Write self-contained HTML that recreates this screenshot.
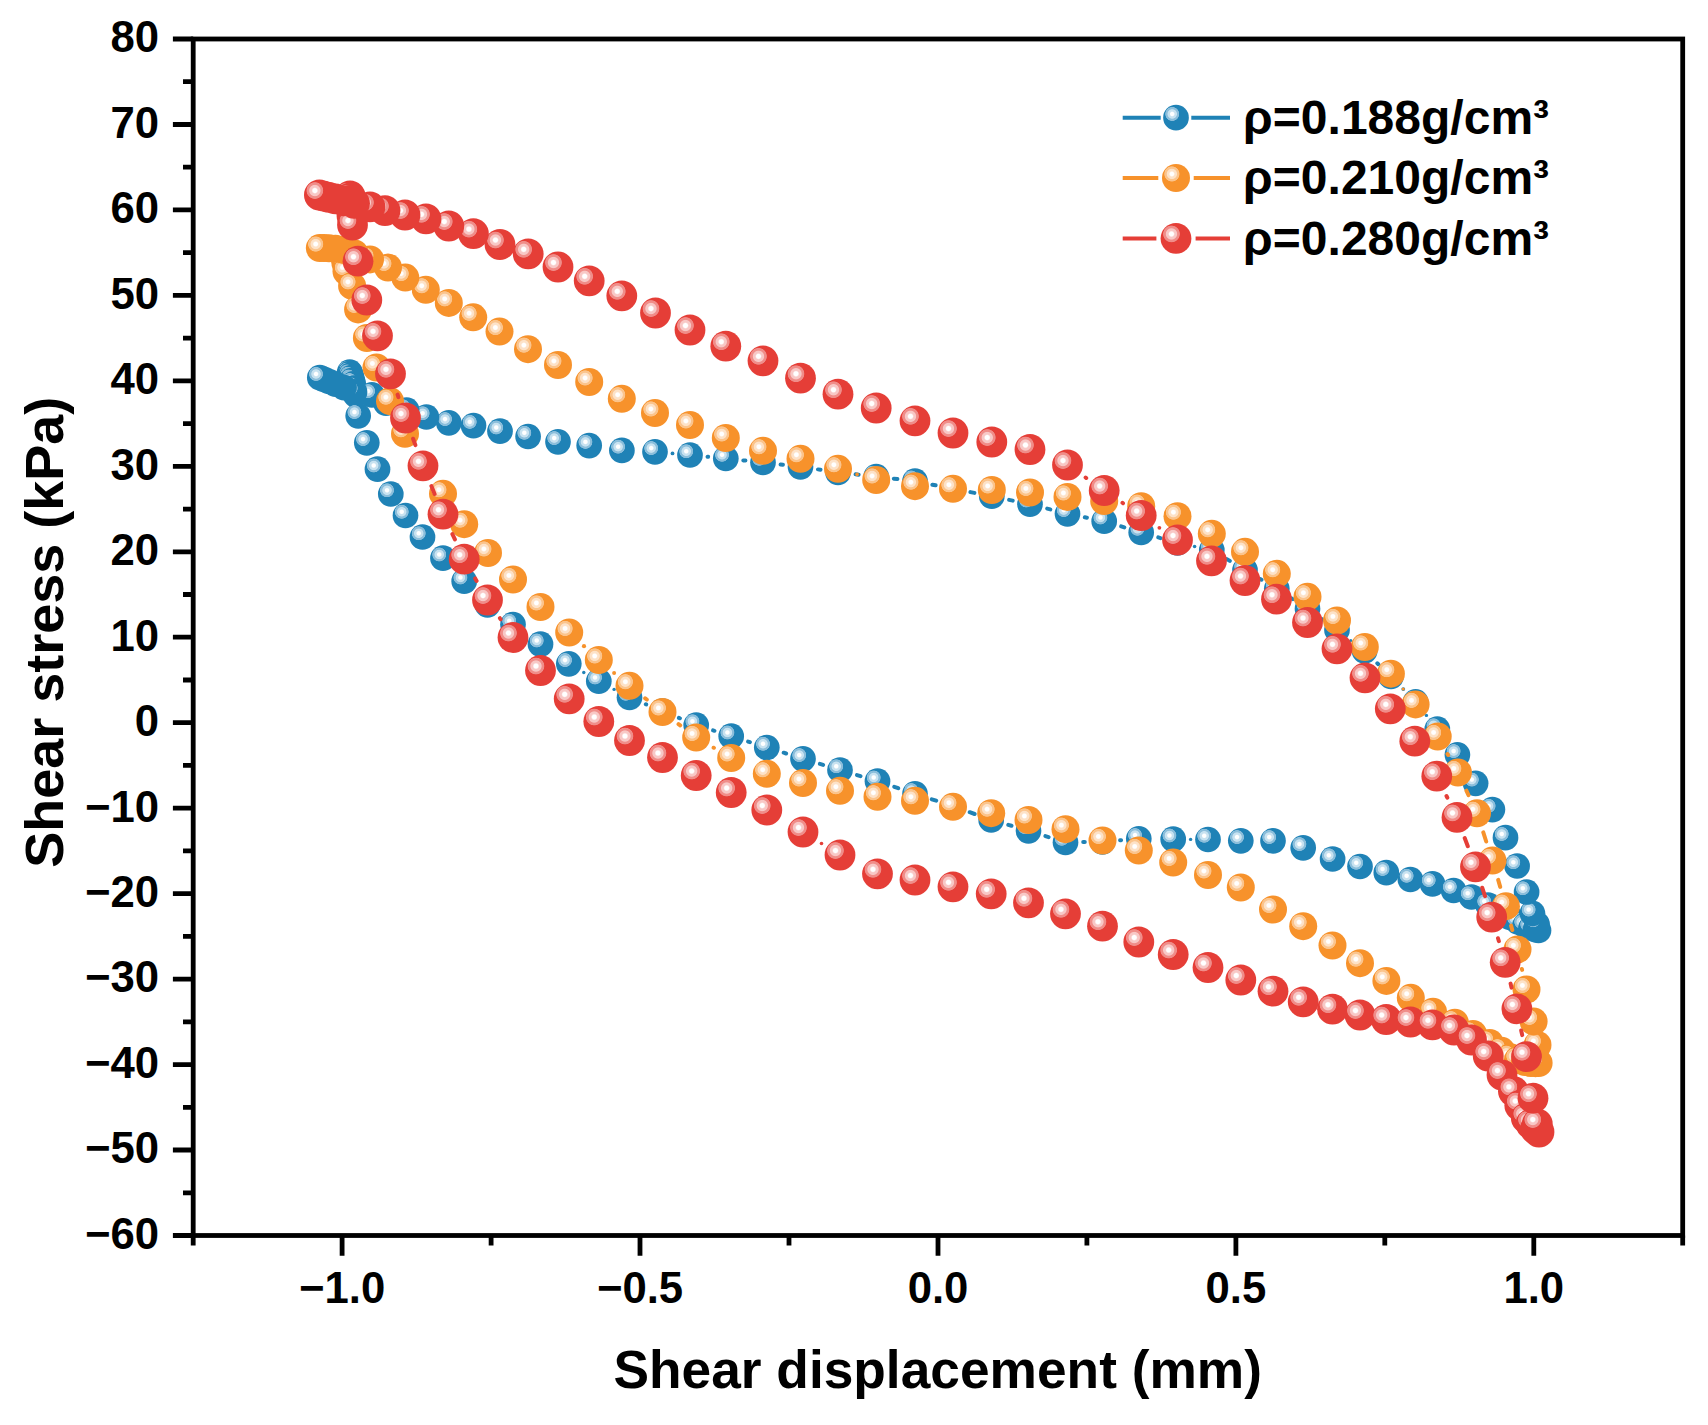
<!DOCTYPE html>
<html lang="en"><head><meta charset="utf-8"><title>Shear stress vs shear displacement</title>
<style>html,body{margin:0;padding:0;background:#fff}body{width:1708px;height:1425px;overflow:hidden}svg{display:block}text{font-family:"Liberation Sans", Arial, Helvetica, sans-serif;font-weight:700;fill:#000}</style></head><body>
<svg width="1708" height="1425" viewBox="0 0 1708 1425">
<rect width="1708" height="1425" fill="#fff"/>
<defs>
<radialGradient id="gb" cx="0.353" cy="0.355" r="0.30" fx="0.353" fy="0.355">
<stop offset="0.00" stop-color="#ffffff"/>
<stop offset="0.22" stop-color="#ffffff"/>
<stop offset="0.36" stop-color="#c8e2f0"/>
<stop offset="0.56" stop-color="#c8e2f0"/>
<stop offset="0.66" stop-color="#8bbedb"/>
<stop offset="0.86" stop-color="#8bbedb"/>
<stop offset="0.94" stop-color="#1f82b6"/>
<stop offset="1.00" stop-color="#1f82b6"/>
</radialGradient>
<radialGradient id="go" cx="0.353" cy="0.355" r="0.30" fx="0.353" fy="0.355">
<stop offset="0.00" stop-color="#ffffff"/>
<stop offset="0.22" stop-color="#ffffff"/>
<stop offset="0.36" stop-color="#fde2c8"/>
<stop offset="0.56" stop-color="#fde2c8"/>
<stop offset="0.66" stop-color="#fbc48c"/>
<stop offset="0.86" stop-color="#fbc48c"/>
<stop offset="0.94" stop-color="#f7922b"/>
<stop offset="1.00" stop-color="#f7922b"/>
</radialGradient>
<radialGradient id="gr" cx="0.353" cy="0.355" r="0.30" fx="0.353" fy="0.355">
<stop offset="0.00" stop-color="#ffffff"/>
<stop offset="0.22" stop-color="#ffffff"/>
<stop offset="0.36" stop-color="#f8c8c6"/>
<stop offset="0.56" stop-color="#f8c8c6"/>
<stop offset="0.66" stop-color="#f08d89"/>
<stop offset="0.86" stop-color="#f08d89"/>
<stop offset="0.94" stop-color="#e53e37"/>
<stop offset="1.00" stop-color="#e53e37"/>
</radialGradient>
</defs>
<g id="series-b">
<path d="M645.8 704.3L646.2 704.4M678.9 717.9L679.9 718.3M713.1 730.4L714.4 730.8M748.1 741.6L749.9 742.2M783.7 752.7L786.1 753.5M819.9 763.9L823.1 764.9M857.0 775.1L860.5 776.2M894.3 786.8L898.2 788.2M931.8 799.3L936.2 800.7M969.7 812.2L974.6 814.0M1008.3 824.9L1011.5 825.8M1045.4 836.1L1048.6 837.1M1083.2 842.1L1084.8 842.1M1120.1 840.3L1121.1 840.2M1378.3 664.2L1377.3 663.3M1322.6 619.7L1321.9 619.1M1292.7 599.1L1291.6 598.4M1261.5 579.7L1260.2 579.0M1229.8 560.9L1226.9 559.1M1160.5 538.1L1158.3 537.4M1124.3 527.4L1121.2 526.4M1086.9 517.7L1084.8 517.3M1050.3 509.4L1047.2 508.6M1012.7 500.6L1009.1 499.9M974.4 492.9L970.4 492.1M935.6 485.3L932.4 484.7M897.4 479.1L893.8 478.7M858.6 474.7L855.6 474.3M820.5 469.8L818.0 469.4M782.9 464.8L780.6 464.5M745.4 460.6L743.3 460.4M708.1 456.8L707.6 456.7" stroke="#1f82b6" stroke-width="4.0" stroke-linecap="round" fill="none"/>
<g fill="#1f82b6"><circle cx="583.8" cy="672.5" r="1.7"/><circle cx="614.1" cy="689.4" r="1.7"/><circle cx="1190.6" cy="839.4" r="1.7"/><circle cx="1426.4" cy="715.4" r="1.7"/><circle cx="1403.3" cy="689.1" r="1.9"/><circle cx="1350.8" cy="640.5" r="1.6"/><circle cx="1194.6" cy="546.5" r="1.8"/><circle cx="672.5" cy="453.4" r="1.9"/></g>
<g fill="url(#gb)"><circle cx="349.7" cy="372.0" r="12.85"/><circle cx="350.2" cy="373.4" r="12.85"/><circle cx="350.8" cy="375.2" r="12.85"/><circle cx="351.5" cy="377.5" r="12.85"/><circle cx="352.3" cy="380.3" r="12.85"/><circle cx="353.2" cy="383.8" r="12.85"/><circle cx="354.2" cy="388.0" r="12.85"/><circle cx="355.6" cy="395.0" r="12.85"/><circle cx="358.2" cy="415.8" r="12.85"/><circle cx="366.8" cy="442.8" r="12.85"/><circle cx="377.5" cy="469.2" r="12.85"/><circle cx="390.8" cy="494.0" r="12.85"/><circle cx="405.5" cy="515.5" r="12.85"/><circle cx="422.5" cy="537.0" r="12.85"/><circle cx="443.0" cy="558.2" r="12.85"/><circle cx="464.2" cy="581.2" r="12.85"/><circle cx="487.5" cy="605.0" r="12.85"/><circle cx="513.0" cy="624.5" r="12.85"/><circle cx="540.5" cy="644.2" r="12.85"/><circle cx="568.8" cy="663.8" r="12.85"/><circle cx="598.8" cy="681.2" r="12.85"/><circle cx="629.5" cy="697.5" r="12.85"/><circle cx="662.5" cy="711.2" r="12.85"/><circle cx="696.2" cy="725.0" r="12.85"/><circle cx="731.2" cy="736.2" r="12.85"/><circle cx="766.8" cy="747.5" r="12.85"/><circle cx="803.0" cy="758.8" r="12.85"/><circle cx="840.0" cy="770.0" r="12.85"/><circle cx="877.5" cy="781.2" r="12.85"/><circle cx="915.0" cy="793.8" r="12.85"/><circle cx="953.0" cy="806.2" r="12.85"/><circle cx="991.2" cy="820.0" r="12.85"/><circle cx="1028.5" cy="830.8" r="12.85"/><circle cx="1065.5" cy="842.5" r="12.85"/><circle cx="1102.5" cy="841.8" r="12.85"/><circle cx="1138.8" cy="838.8" r="12.85"/><circle cx="1173.2" cy="839.2" r="12.85"/><circle cx="1208.0" cy="839.5" r="12.85"/><circle cx="1240.8" cy="840.8" r="12.85"/><circle cx="1273.0" cy="840.8" r="12.85"/><circle cx="1303.2" cy="847.8" r="12.85"/><circle cx="1332.6" cy="859.0" r="12.85"/><circle cx="1360.0" cy="866.5" r="12.85"/><circle cx="1386.3" cy="872.7" r="12.85"/><circle cx="1410.4" cy="879.5" r="12.85"/><circle cx="1432.5" cy="883.8" r="12.85"/><circle cx="1453.6" cy="890.5" r="12.85"/><circle cx="1471.5" cy="897.0" r="12.85"/><circle cx="1488.0" cy="905.0" r="12.85"/><circle cx="1500.0" cy="911.5" r="12.85"/><circle cx="1510.0" cy="917.5" r="12.85"/><circle cx="1518.0" cy="922.0" r="12.85"/><circle cx="1525.0" cy="925.5" r="12.85"/><circle cx="1531.0" cy="928.0" r="12.85"/><circle cx="1535.5" cy="929.6" r="12.85"/><circle cx="1538.5" cy="930.4" r="12.85"/><circle cx="1537.0" cy="924.0" r="12.85"/><circle cx="1532.4" cy="913.3" r="12.85"/><circle cx="1526.6" cy="892.0" r="12.85"/><circle cx="1517.1" cy="866.0" r="12.85"/><circle cx="1505.5" cy="837.7" r="12.85"/><circle cx="1492.4" cy="809.6" r="12.85"/><circle cx="1475.6" cy="783.3" r="12.85"/><circle cx="1457.4" cy="754.8" r="12.85"/><circle cx="1437.3" cy="729.0" r="12.85"/><circle cx="1415.6" cy="701.8" r="12.85"/><circle cx="1391.0" cy="676.5" r="12.85"/><circle cx="1364.6" cy="651.0" r="12.85"/><circle cx="1337.0" cy="630.0" r="12.85"/><circle cx="1307.5" cy="608.8" r="12.85"/><circle cx="1276.8" cy="588.8" r="12.85"/><circle cx="1245.0" cy="570.0" r="12.85"/><circle cx="1211.8" cy="550.0" r="12.85"/><circle cx="1177.5" cy="543.0" r="12.85"/><circle cx="1141.2" cy="532.5" r="12.85"/><circle cx="1104.2" cy="521.2" r="12.85"/><circle cx="1067.5" cy="513.8" r="12.85"/><circle cx="1030.0" cy="504.2" r="12.85"/><circle cx="991.8" cy="496.2" r="12.85"/><circle cx="953.0" cy="488.8" r="12.85"/><circle cx="915.0" cy="481.2" r="12.85"/><circle cx="876.2" cy="476.5" r="12.85"/><circle cx="838.0" cy="472.5" r="12.85"/><circle cx="800.5" cy="466.8" r="12.85"/><circle cx="763.0" cy="462.5" r="12.85"/><circle cx="725.8" cy="458.5" r="12.85"/><circle cx="690.0" cy="455.0" r="12.85"/><circle cx="655.0" cy="451.8" r="12.85"/><circle cx="621.9" cy="450.4" r="12.85"/><circle cx="589.2" cy="445.6" r="12.85"/><circle cx="558.0" cy="441.8" r="12.85"/><circle cx="528.1" cy="436.5" r="12.85"/><circle cx="500.0" cy="431.2" r="12.85"/><circle cx="473.5" cy="425.6" r="12.85"/><circle cx="448.8" cy="422.8" r="12.85"/><circle cx="426.4" cy="417.0" r="12.85"/><circle cx="406.6" cy="410.0" r="12.85"/><circle cx="386.0" cy="403.2" r="12.85"/><circle cx="371.9" cy="394.8" r="12.85"/><circle cx="354.5" cy="391.9" r="12.85"/><circle cx="344.0" cy="387.6" r="12.85"/><circle cx="335.5" cy="384.1" r="12.85"/><circle cx="329.0" cy="381.5" r="12.85"/><circle cx="324.0" cy="379.4" r="12.85"/><circle cx="319.8" cy="377.7" r="12.85"/></g>
</g>
<g id="series-o">
<path d="M645.2 698.3L646.8 699.5M678.5 724.1L680.2 725.4M713.6 747.7L713.9 747.8M1522.1 969.9L1521.9 969.0M1512.3 930.0L1511.1 925.6M1500.2 886.9L1498.2 879.9M1486.2 841.5L1483.3 832.4M1468.5 795.1L1466.4 790.7M1448.1 755.0L1447.5 754.0" stroke="#f7922b" stroke-width="4.0" stroke-linecap="round" fill="none"/>
<g fill="#f7922b"><circle cx="584.0" cy="646.2" r="2.1"/><circle cx="614.1" cy="672.9" r="2.0"/><circle cx="1403.2" cy="689.0" r="1.6"/><circle cx="857.1" cy="474.4" r="1.8"/></g>
<g fill="url(#go)"><circle cx="343.5" cy="250.0" r="14.00"/><circle cx="343.8" cy="252.0" r="14.00"/><circle cx="344.2" cy="254.5" r="14.00"/><circle cx="344.7" cy="258.0" r="14.00"/><circle cx="345.4" cy="263.0" r="14.00"/><circle cx="346.5" cy="271.5" r="14.00"/><circle cx="352.1" cy="285.9" r="14.00"/><circle cx="358.1" cy="309.4" r="14.00"/><circle cx="366.9" cy="338.0" r="14.00"/><circle cx="376.5" cy="367.5" r="14.00"/><circle cx="390.0" cy="401.2" r="14.00"/><circle cx="405.0" cy="433.8" r="14.00"/><circle cx="423.0" cy="466.0" r="14.00"/><circle cx="443.0" cy="493.8" r="14.00"/><circle cx="464.2" cy="524.2" r="14.00"/><circle cx="488.0" cy="553.0" r="14.00"/><circle cx="513.0" cy="579.5" r="14.00"/><circle cx="540.5" cy="607.0" r="14.00"/><circle cx="569.2" cy="632.5" r="14.00"/><circle cx="598.8" cy="660.0" r="14.00"/><circle cx="629.5" cy="685.8" r="14.00"/><circle cx="662.5" cy="712.0" r="14.00"/><circle cx="696.2" cy="737.5" r="14.00"/><circle cx="731.2" cy="758.0" r="14.00"/><circle cx="766.8" cy="773.8" r="14.00"/><circle cx="803.0" cy="783.0" r="14.00"/><circle cx="840.0" cy="790.8" r="14.00"/><circle cx="877.5" cy="796.8" r="14.00"/><circle cx="915.0" cy="800.8" r="14.00"/><circle cx="953.0" cy="806.8" r="14.00"/><circle cx="991.2" cy="813.2" r="14.00"/><circle cx="1028.5" cy="820.0" r="14.00"/><circle cx="1065.5" cy="829.2" r="14.00"/><circle cx="1102.5" cy="840.5" r="14.00"/><circle cx="1138.8" cy="850.5" r="14.00"/><circle cx="1173.2" cy="862.5" r="14.00"/><circle cx="1208.0" cy="875.0" r="14.00"/><circle cx="1240.8" cy="887.5" r="14.00"/><circle cx="1273.0" cy="909.5" r="14.00"/><circle cx="1303.2" cy="926.2" r="14.00"/><circle cx="1332.5" cy="945.5" r="14.00"/><circle cx="1360.0" cy="963.2" r="14.00"/><circle cx="1386.4" cy="980.9" r="14.00"/><circle cx="1410.8" cy="997.8" r="14.00"/><circle cx="1433.0" cy="1011.8" r="14.00"/><circle cx="1454.9" cy="1022.7" r="14.00"/><circle cx="1473.0" cy="1034.0" r="14.00"/><circle cx="1489.7" cy="1043.0" r="14.00"/><circle cx="1501.4" cy="1050.8" r="14.00"/><circle cx="1510.4" cy="1057.3" r="14.00"/><circle cx="1518.0" cy="1060.0" r="14.00"/><circle cx="1525.0" cy="1062.0" r="14.00"/><circle cx="1531.0" cy="1063.0" r="14.00"/><circle cx="1535.5" cy="1063.2" r="14.00"/><circle cx="1538.6" cy="1063.0" r="14.00"/><circle cx="1537.5" cy="1045.0" r="14.00"/><circle cx="1533.6" cy="1021.4" r="14.00"/><circle cx="1526.5" cy="989.5" r="14.00"/><circle cx="1517.5" cy="949.4" r="14.00"/><circle cx="1505.9" cy="906.2" r="14.00"/><circle cx="1492.5" cy="860.6" r="14.00"/><circle cx="1477.0" cy="813.3" r="14.00"/><circle cx="1457.9" cy="772.5" r="14.00"/><circle cx="1437.7" cy="736.5" r="14.00"/><circle cx="1415.6" cy="704.4" r="14.00"/><circle cx="1390.9" cy="673.7" r="14.00"/><circle cx="1364.8" cy="647.0" r="14.00"/><circle cx="1337.0" cy="620.5" r="14.00"/><circle cx="1307.5" cy="596.8" r="14.00"/><circle cx="1276.8" cy="573.8" r="14.00"/><circle cx="1245.0" cy="551.8" r="14.00"/><circle cx="1211.8" cy="533.8" r="14.00"/><circle cx="1177.5" cy="516.2" r="14.00"/><circle cx="1141.2" cy="506.2" r="14.00"/><circle cx="1104.2" cy="501.0" r="14.00"/><circle cx="1067.5" cy="497.0" r="14.00"/><circle cx="1030.0" cy="492.5" r="14.00"/><circle cx="991.8" cy="490.0" r="14.00"/><circle cx="953.0" cy="488.8" r="14.00"/><circle cx="915.0" cy="486.2" r="14.00"/><circle cx="876.2" cy="480.0" r="14.00"/><circle cx="838.0" cy="468.8" r="14.00"/><circle cx="800.5" cy="458.8" r="14.00"/><circle cx="763.0" cy="450.8" r="14.00"/><circle cx="725.8" cy="438.0" r="14.00"/><circle cx="690.0" cy="425.0" r="14.00"/><circle cx="655.0" cy="413.0" r="14.00"/><circle cx="621.8" cy="398.8" r="14.00"/><circle cx="589.2" cy="382.0" r="14.00"/><circle cx="558.0" cy="365.0" r="14.00"/><circle cx="528.0" cy="349.2" r="14.00"/><circle cx="499.5" cy="331.6" r="14.00"/><circle cx="473.2" cy="317.3" r="14.00"/><circle cx="448.8" cy="302.9" r="14.00"/><circle cx="425.8" cy="289.8" r="14.00"/><circle cx="405.3" cy="277.6" r="14.00"/><circle cx="388.0" cy="267.5" r="14.00"/><circle cx="370.0" cy="259.4" r="14.00"/><circle cx="354.5" cy="253.5" r="14.00"/><circle cx="344.0" cy="250.1" r="14.00"/><circle cx="335.5" cy="248.8" r="14.00"/><circle cx="329.0" cy="248.3" r="14.00"/><circle cx="324.0" cy="248.1" r="14.00"/><circle cx="319.8" cy="248.1" r="14.00"/></g>
</g>
<g id="series-r">
<path d="M397.6 394.6L398.4 397.2M413.1 438.7L415.4 445.1M431.4 486.1L434.6 493.9M452.4 534.1L454.9 539.4M475.2 578.4L476.6 580.9M499.9 618.2L500.6 619.3M1522.2 1035.1L1521.2 1030.5M1511.5 987.6L1510.6 983.6M1498.9 941.2L1498.0 938.2M1485.0 896.2L1482.2 887.7M1467.8 846.2L1464.7 838.0M1447.3 797.6L1446.5 796.0M1123.0 503.2L1122.5 502.8M1086.2 478.0L1085.6 477.5" stroke="#e53e37" stroke-width="4.0" stroke-linecap="round" fill="none"/>
<g fill="#e53e37"><circle cx="821.5" cy="843.5" r="1.8"/><circle cx="1159.4" cy="527.8" r="1.9"/></g>
<g fill="url(#gr)"><circle cx="350.0" cy="196.0" r="15.40"/><circle cx="350.3" cy="198.0" r="15.40"/><circle cx="350.6" cy="200.5" r="15.40"/><circle cx="351.0" cy="204.0" r="15.40"/><circle cx="351.5" cy="209.0" r="15.40"/><circle cx="352.0" cy="216.0" r="15.40"/><circle cx="352.5" cy="225.0" r="15.40"/><circle cx="358.0" cy="261.2" r="15.40"/><circle cx="366.8" cy="300.0" r="15.40"/><circle cx="377.5" cy="335.8" r="15.40"/><circle cx="390.5" cy="373.8" r="15.40"/><circle cx="405.5" cy="418.0" r="15.40"/><circle cx="423.0" cy="465.8" r="15.40"/><circle cx="443.0" cy="514.2" r="15.40"/><circle cx="464.2" cy="559.2" r="15.40"/><circle cx="487.5" cy="600.0" r="15.40"/><circle cx="513.0" cy="637.5" r="15.40"/><circle cx="540.5" cy="670.5" r="15.40"/><circle cx="569.2" cy="698.8" r="15.40"/><circle cx="598.8" cy="721.5" r="15.40"/><circle cx="629.5" cy="740.5" r="15.40"/><circle cx="662.5" cy="757.5" r="15.40"/><circle cx="696.2" cy="775.5" r="15.40"/><circle cx="731.2" cy="792.5" r="15.40"/><circle cx="766.8" cy="810.0" r="15.40"/><circle cx="803.0" cy="832.0" r="15.40"/><circle cx="840.0" cy="855.0" r="15.40"/><circle cx="877.5" cy="873.8" r="15.40"/><circle cx="915.0" cy="880.0" r="15.40"/><circle cx="953.0" cy="886.8" r="15.40"/><circle cx="991.2" cy="893.8" r="15.40"/><circle cx="1028.5" cy="902.8" r="15.40"/><circle cx="1065.5" cy="913.8" r="15.40"/><circle cx="1102.5" cy="926.2" r="15.40"/><circle cx="1138.8" cy="942.0" r="15.40"/><circle cx="1173.2" cy="954.5" r="15.40"/><circle cx="1208.0" cy="967.5" r="15.40"/><circle cx="1240.8" cy="980.0" r="15.40"/><circle cx="1273.0" cy="991.2" r="15.40"/><circle cx="1303.2" cy="1001.8" r="15.40"/><circle cx="1332.5" cy="1009.2" r="15.40"/><circle cx="1360.0" cy="1015.0" r="15.40"/><circle cx="1386.2" cy="1019.5" r="15.40"/><circle cx="1410.5" cy="1022.0" r="15.40"/><circle cx="1432.5" cy="1024.8" r="15.40"/><circle cx="1454.0" cy="1030.0" r="15.40"/><circle cx="1471.5" cy="1040.0" r="15.40"/><circle cx="1488.2" cy="1056.0" r="15.40"/><circle cx="1502.0" cy="1075.0" r="15.40"/><circle cx="1513.4" cy="1091.3" r="15.40"/><circle cx="1519.8" cy="1105.5" r="15.40"/><circle cx="1526.3" cy="1118.0" r="15.40"/><circle cx="1531.0" cy="1124.0" r="15.40"/><circle cx="1535.5" cy="1129.0" r="15.40"/><circle cx="1539.0" cy="1132.0" r="15.40"/><circle cx="1537.3" cy="1124.0" r="15.40"/><circle cx="1533.0" cy="1098.2" r="15.40"/><circle cx="1526.5" cy="1056.7" r="15.40"/><circle cx="1516.9" cy="1008.9" r="15.40"/><circle cx="1505.2" cy="962.3" r="15.40"/><circle cx="1491.7" cy="917.1" r="15.40"/><circle cx="1475.5" cy="866.8" r="15.40"/><circle cx="1457.0" cy="817.4" r="15.40"/><circle cx="1436.8" cy="776.2" r="15.40"/><circle cx="1414.8" cy="741.2" r="15.40"/><circle cx="1390.3" cy="708.8" r="15.40"/><circle cx="1365.0" cy="677.8" r="15.40"/><circle cx="1337.0" cy="648.8" r="15.40"/><circle cx="1307.5" cy="622.5" r="15.40"/><circle cx="1276.5" cy="599.2" r="15.40"/><circle cx="1245.0" cy="580.5" r="15.40"/><circle cx="1211.5" cy="560.8" r="15.40"/><circle cx="1177.5" cy="540.0" r="15.40"/><circle cx="1141.2" cy="515.5" r="15.40"/><circle cx="1104.2" cy="490.5" r="15.40"/><circle cx="1067.5" cy="465.0" r="15.40"/><circle cx="1030.0" cy="449.5" r="15.40"/><circle cx="991.8" cy="442.0" r="15.40"/><circle cx="953.0" cy="433.0" r="15.40"/><circle cx="915.0" cy="420.8" r="15.40"/><circle cx="876.2" cy="408.0" r="15.40"/><circle cx="838.0" cy="394.2" r="15.40"/><circle cx="800.5" cy="378.2" r="15.40"/><circle cx="763.0" cy="360.8" r="15.40"/><circle cx="725.8" cy="346.2" r="15.40"/><circle cx="690.0" cy="330.0" r="15.40"/><circle cx="655.5" cy="313.0" r="15.40"/><circle cx="621.8" cy="295.8" r="15.40"/><circle cx="589.2" cy="280.8" r="15.40"/><circle cx="558.0" cy="267.0" r="15.40"/><circle cx="528.2" cy="253.8" r="15.40"/><circle cx="500.0" cy="244.5" r="15.40"/><circle cx="473.4" cy="233.6" r="15.40"/><circle cx="448.8" cy="226.0" r="15.40"/><circle cx="426.0" cy="218.8" r="15.40"/><circle cx="405.0" cy="215.0" r="15.40"/><circle cx="385.0" cy="210.6" r="15.40"/><circle cx="370.0" cy="206.9" r="15.40"/><circle cx="354.5" cy="203.3" r="15.40"/><circle cx="344.0" cy="200.8" r="15.40"/><circle cx="335.5" cy="198.8" r="15.40"/><circle cx="329.0" cy="197.3" r="15.40"/><circle cx="324.0" cy="196.1" r="15.40"/><circle cx="319.4" cy="195.0" r="15.40"/></g>
</g>
<g stroke="#000" stroke-width="4.8" fill="none" stroke-linecap="butt">
<rect x="193.2" y="39.0" width="1489.5" height="1196.5"/>
<path d="M193.2 1235.5H172.9M193.2 1192.8H183.0M193.2 1150.0H172.9M193.2 1107.3H183.0M193.2 1064.6H172.9M193.2 1021.8H183.0M193.2 979.1H172.9M193.2 936.4H183.0M193.2 893.6H172.9M193.2 850.9H183.0M193.2 808.2H172.9M193.2 765.4H183.0M193.2 722.7H172.9M193.2 680.0H183.0M193.2 637.2H172.9M193.2 594.5H183.0M193.2 551.8H172.9M193.2 509.1H183.0M193.2 466.3H172.9M193.2 423.6H183.0M193.2 380.9H172.9M193.2 338.1H183.0M193.2 295.4H172.9M193.2 252.7H183.0M193.2 209.9H172.9M193.2 167.2H183.0M193.2 124.5H172.9M193.2 81.7H183.0M193.2 39.0H172.9M193.2 1235.5V1245.5M342.1 1235.5V1255.8M491.1 1235.5V1245.5M640.0 1235.5V1255.8M789.0 1235.5V1245.5M938.0 1235.5V1255.8M1086.9 1235.5V1245.5M1235.9 1235.5V1255.8M1384.8 1235.5V1245.5M1533.8 1235.5V1255.8M1682.7 1235.5V1245.5"/>
</g>
<g font-size="43.7" text-anchor="end">
<text x="159.0" y="1248.8">−60</text>
<text x="159.0" y="1163.3">−50</text>
<text x="159.0" y="1077.9">−40</text>
<text x="159.0" y="992.4">−30</text>
<text x="159.0" y="906.9">−20</text>
<text x="159.0" y="821.5">−10</text>
<text x="159.0" y="736.0">0</text>
<text x="159.0" y="650.5">10</text>
<text x="159.0" y="565.1">20</text>
<text x="159.0" y="479.6">30</text>
<text x="159.0" y="394.2">40</text>
<text x="159.0" y="308.7">50</text>
<text x="159.0" y="223.2">60</text>
<text x="159.0" y="137.8">70</text>
<text x="159.0" y="52.3">80</text>
</g>
<g font-size="43.7" text-anchor="middle">
<text x="342.1" y="1303.0">−1.0</text>
<text x="640.0" y="1303.0">−0.5</text>
<text x="938.0" y="1303.0">0.0</text>
<text x="1235.9" y="1303.0">0.5</text>
<text x="1533.8" y="1303.0">1.0</text>
</g>
<text x="937.7" y="1387.5" font-size="53.6" text-anchor="middle" textLength="648.5" lengthAdjust="spacingAndGlyphs">Shear displacement (mm)</text>
<text transform="translate(63.3 632.3) rotate(-90)" font-size="53.6" text-anchor="middle" textLength="471" lengthAdjust="spacingAndGlyphs">Shear stress (kPa)</text>
<path d="M1122.7 117.7H1160.7M1191.3 117.7H1230" stroke="#1f82b6" stroke-width="4.0" fill="none"/>
<g fill="url(#gb)"><circle cx="1176.0" cy="117.7" r="12.85"/></g>
<text x="1243.1" y="134.0" font-size="48" textLength="306" lengthAdjust="spacingAndGlyphs">ρ=0.188g/cm³</text>
<path d="M1122.7 178.0H1158.3M1193.7 178.0H1230" stroke="#f7922b" stroke-width="4.0" fill="none"/>
<g fill="url(#go)"><circle cx="1176.0" cy="178.0" r="14.00"/></g>
<text x="1243.1" y="194.3" font-size="48" textLength="306" lengthAdjust="spacingAndGlyphs">ρ=0.210g/cm³</text>
<path d="M1122.7 238.4H1156.4M1195.6 238.4H1230" stroke="#e53e37" stroke-width="4.0" fill="none"/>
<g fill="url(#gr)"><circle cx="1176.0" cy="238.4" r="15.40"/></g>
<text x="1243.1" y="254.7" font-size="48" textLength="306" lengthAdjust="spacingAndGlyphs">ρ=0.280g/cm³</text>
</svg></body></html>
